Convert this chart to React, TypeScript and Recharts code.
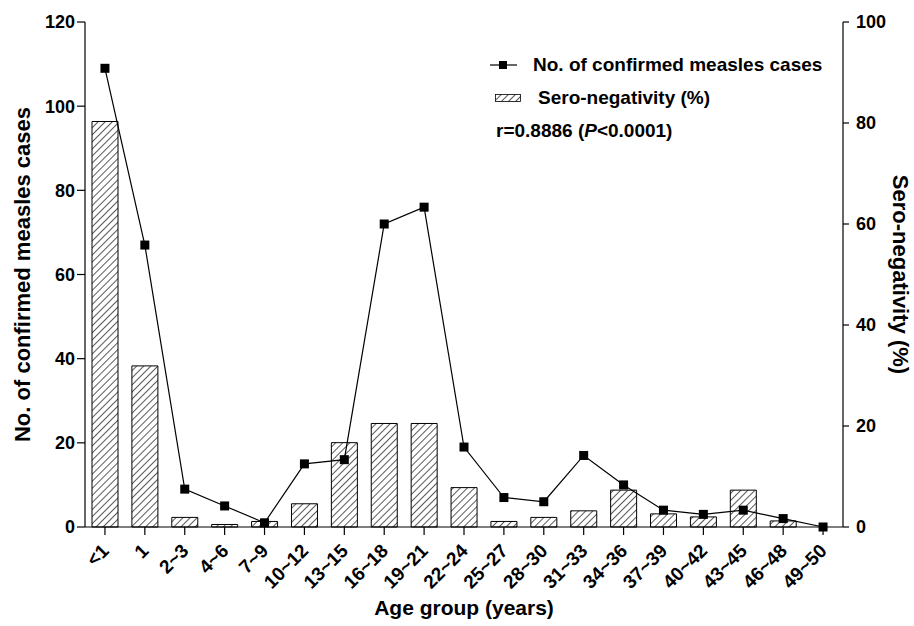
import React from 'react';
import { ComposedChart, Bar, Line, XAxis, YAxis, Legend } from 'recharts';

const ageGroups = ['<1', '1', '2~3', '4~6', '7~9', '10~12', '13~15', '16~18', '19~21', '22~24', '25~27', '28~30', '31~33', '34~36', '37~39', '40~42', '43~45', '46~48', '49~50'];
const confirmedCases = [109, 67, 9, 5, 1, 15, 16, 72, 76, 19, 7, 6, 17, 10, 4, 3, 4, 2, 0];
const seroNegativity = [80.3, 31.9, 1.9, 0.5, 1.1, 4.6, 16.7, 20.5, 20.5, 7.8, 1.1, 1.9, 3.2, 7.3, 2.6, 2.0, 7.3, 1.2, 0];
const leftTicks = [0, 20, 40, 60, 80, 100, 120];
const rightTicks = [0, 20, 40, 60, 80, 100];

const data = ageGroups.map((age, i) => ({ age, cases: confirmedCases[i], sero: seroNegativity[i] }));

const FONT = "'Liberation Sans', Arial, Helvetica, sans-serif";

const XTick = (props: any) => {
  const { x, y, payload } = props;
  const ax = x + 5;
  const ay = y + 15;
  return (
    <text
      x={ax}
      y={ay}
      transform={`rotate(-45, ${ax}, ${ay})`}
      textAnchor="end"
      fontFamily={FONT}
      fontWeight="bold"
      fontSize={19}
      fill="#000"
    >
      {payload.value}
    </text>
  );
};

const SquareDot = (props: any) => {
  const { cx, cy, index } = props;
  if (cx == null || cy == null) return <g key={`d${index}`} />;
  return <rect key={`d${index}`} x={cx - 4.5} y={cy - 4.5} width={9} height={9} fill="#000" />;
};

const LegendContent = () => (
  <div style={{ fontFamily: FONT, fontWeight: 'bold', fontSize: 19, color: '#000', lineHeight: '33px' }}>
    <div style={{ display: 'flex', alignItems: 'center', height: 33, whiteSpace: 'nowrap' }}>
      <svg width={27} height={12} style={{ display: 'block' }}>
        <line x1={0} y1={6} x2={27} y2={6} stroke="#000" strokeWidth={1.2} />
        <rect x={9} y={2} width={8} height={8} fill="#000" />
      </svg>
      <span style={{ marginLeft: 16 }}>No. of confirmed measles cases</span>
    </div>
    <div style={{ display: 'flex', alignItems: 'center', height: 33, whiteSpace: 'nowrap' }}>
      <svg width={26} height={10} style={{ display: 'block', marginLeft: 5 }}>
        <rect x={0.5} y={1.5} width={25} height={7} fill="url(#hatch)" stroke="#000" strokeWidth={0.8} />
      </svg>
      <span style={{ marginLeft: 17 }}>Sero-negativity (%)</span>
    </div>
    <div style={{ height: 33, whiteSpace: 'nowrap', marginLeft: 6 }}>
      r=0.8886 (<i>P</i>&lt;0.0001)
    </div>
  </div>
);

export default function App() {
  return (
    <div style={{ position: 'absolute', left: 0, top: 0, background: '#fff' }}>
      <ComposedChart width={914} height={626} data={data} margin={{ top: 22, right: 0, left: 0, bottom: 0 }}>
        <defs>
          <pattern id="hatch" patternUnits="userSpaceOnUse" width={5} height={5} patternTransform="rotate(45)">
            <rect x={0} y={0} width={5} height={5} fill="#fff" />
            <line x1={0} y1={0} x2={0} y2={5} stroke="#000" strokeWidth={1.3} />
          </pattern>
        </defs>
        <XAxis
          dataKey="age"
          interval={0}
          height={99}
          tick={<XTick />}
          tickSize={8}
          axisLine={{ stroke: '#000', strokeWidth: 1.2 }}
          tickLine={{ stroke: '#000', strokeWidth: 1.2 }}
          label={{
            value: 'Age group (years)',
            position: 'insideBottom',
            offset: 11,
            style: { fontFamily: FONT, fontWeight: 'bold', fontSize: 21, fill: '#000' },
          }}
        />
        <YAxis
          yAxisId="left"
          orientation="left"
          width={85}
          domain={[0, 120]}
          ticks={leftTicks}
          interval={0}
          tickSize={8}
          tick={{ fill: '#000', fontFamily: FONT, fontWeight: 'bold', fontSize: 18 }}
          axisLine={{ stroke: '#000', strokeWidth: 1.2 }}
          tickLine={{ stroke: '#000', strokeWidth: 1.2 }}
          label={{
            value: 'No. of confirmed measles cases',
            angle: -90,
            position: 'insideLeft',
            offset: 22,
            style: { textAnchor: 'middle', fontFamily: FONT, fontWeight: 'bold', fontSize: 22, fill: '#000' },
          }}
        />
        <YAxis
          yAxisId="right"
          orientation="right"
          width={71}
          domain={[0, 100]}
          ticks={rightTicks}
          interval={0}
          tickSize={6}
          tickMargin={7}
          tick={{ fill: '#000', fontFamily: FONT, fontWeight: 'bold', fontSize: 18 }}
          axisLine={{ stroke: '#000', strokeWidth: 1.2 }}
          tickLine={{ stroke: '#000', strokeWidth: 1.2 }}
          label={{
            value: 'Sero-negativity (%)',
            angle: 90,
            position: 'insideRight',
            offset: 13,
            style: { textAnchor: 'middle', fontFamily: FONT, fontWeight: 'bold', fontSize: 22, fill: '#000' },
          }}
        />
        <Legend
          layout="vertical"
          align="center"
          verticalAlign="middle"
          content={<LegendContent />}
          wrapperStyle={{ position: 'absolute', left: 490, top: 48, width: 420 }}
        />
        <Bar
          yAxisId="right"
          dataKey="sero"
          barSize={26}
          fill="url(#hatch)"
          stroke="#000"
          strokeWidth={1}
          isAnimationActive={false}
        />
        <Line
          yAxisId="left"
          dataKey="cases"
          type="linear"
          stroke="#000"
          strokeWidth={1.2}
          dot={SquareDot}
          activeDot={false}
          isAnimationActive={false}
        />
      </ComposedChart>
    </div>
  );
}
